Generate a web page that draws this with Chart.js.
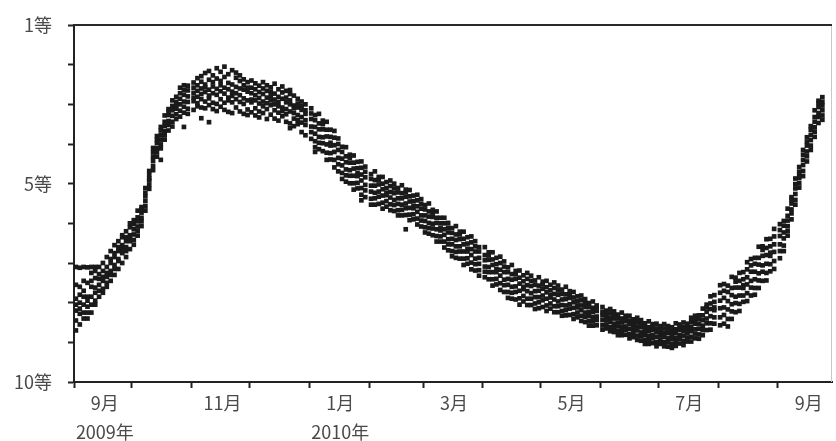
<!DOCTYPE html>
<html>
<head>
<meta charset="utf-8">
<script src="https://cdn.jsdelivr.net/npm/chart.js@4.4.1/dist/chart.umd.min.js"></script>
<style>
  html, body { margin: 0; padding: 0; background: #fff; }
</style>
</head>
<body>
<canvas id="lightCurve" width="836" height="441"></canvas>
<script>
// Observed magnitudes, one row per date: [day of month, magnitude, magnitude, ...]
const sep2009 = [
  [2, 7.55, 7.9, 8.2, 8.45, 8.7, 8.05, 7.1],
  [4, 8.28, 7.6, 8.0, 8.55, 7.8, 8.15, 7.12],
  [6, 7.7, 8.4, 7.45, 8.05, 8.25, 7.85, 7.1],
  [8, 8.4, 7.85, 8.1, 7.5, 7.95, 8.25, 7.11],
  [10, 7.6, 7.85, 8.25, 7.45, 8.05, 7.25, 7.1],
  [12, 7.75, 7.2, 7.95, 7.62, 7.38, 8.05, 7.1],
  [14, 7.28, 7.7, 7.1, 7.55, 7.85, 7.4],
  [16, 7.45, 7.0, 7.65, 7.35, 7.2, 7.75],
  [18, 6.85, 7.35, 7.6, 7.1, 7.25, 7.5],
  [20, 7.2, 6.7, 7.45, 7.0, 6.9, 7.3],
  [22, 6.55, 7.05, 7.3, 6.85, 7.15, 6.75],
  [24, 6.9, 6.45, 7.15, 6.7, 6.95, 6.6],
  [26, 6.35, 6.75, 6.55, 7.0, 6.65, 6.3],
  [28, 6.6, 6.2, 6.85, 6.45, 6.35, 6.7],
  [30, 6.1, 6.45, 6.3, 6.65, 6.0, 6.4]
];
const oct2009 = [
  [2, 5.92, 6.15, 6.28, 6.42, 6.54, 6.02],
  [4, 5.68, 5.85, 5.95, 6.08, 6.19, 6.31],
  [6, 5.59, 5.73, 5.86, 5.95, 6.07, 5.65],
  [8, 5.23, 5.32, 5.44, 5.57, 5.68, 5.11],
  [10, 4.68, 4.87, 5.03, 5.13, 4.78, 4.92],
  [12, 4.21, 4.32, 4.42, 4.55, 4.66, 4.1],
  [14, 3.8, 3.98, 4.11, 4.21, 4.32, 3.89],
  [16, 3.57, 3.78, 3.89, 4.01, 4.11, 3.66, 4.4],
  [18, 3.28, 3.44, 3.54, 3.67, 3.78, 3.89],
  [20, 3.12, 3.27, 3.42, 3.52, 3.66, 3.18],
  [22, 3.04, 3.15, 3.29, 3.44, 3.56, 2.9],
  [24, 2.81, 3.05, 3.25, 3.37, 2.94, 3.11],
  [26, 2.72, 2.86, 3.0, 3.16, 3.31, 2.58],
  [28, 2.52, 2.76, 2.93, 3.06, 3.21, 2.64, 3.57],
  [30, 2.53, 2.8, 2.94, 3.11, 3.24, 2.65]
];
const nov2009 = [
  [2, 2.45, 2.92, 2.71, 3.14, 2.58, 2.83],
  [4, 2.66, 2.34, 3.05, 2.81, 2.52, 2.97],
  [6, 2.29, 2.74, 2.6, 3.08, 2.43, 2.87, 3.35],
  [8, 2.93, 2.5, 2.21, 2.69, 3.1, 2.57],
  [10, 2.38, 2.78, 2.63, 3.02, 2.16, 2.85, 3.45],
  [12, 2.72, 2.27, 2.96, 2.55, 3.12, 2.44],
  [14, 2.09, 2.61, 2.76, 2.35, 2.99, 3.17],
  [16, 2.52, 2.18, 2.87, 3.06, 2.67, 2.41],
  [18, 2.31, 2.73, 2.96, 2.05, 3.14, 2.58],
  [20, 2.83, 2.46, 2.62, 3.19, 2.24, 2.9],
  [22, 2.14, 2.68, 2.95, 2.5, 2.79, 3.22],
  [24, 2.56, 3.08, 2.33, 2.87, 2.72, 2.2],
  [26, 2.94, 2.41, 2.77, 3.18, 2.6, 2.27],
  [28, 2.37, 2.85, 2.63, 3.24, 2.99, 2.52],
  [30, 2.68, 3.13, 2.44, 2.9, 2.58, 3.27]
];
const dec2009 = [
  [2, 2.4, 2.95, 2.72, 3.2, 2.58, 2.88],
  [4, 2.62, 3.1, 2.47, 2.9, 3.28, 2.77],
  [6, 2.53, 2.98, 3.18, 2.69, 2.84, 3.33],
  [8, 2.74, 2.44, 3.05, 2.93, 3.22, 2.6],
  [10, 2.66, 3.12, 2.83, 3.37, 2.52, 2.97],
  [12, 3.02, 2.57, 2.79, 3.26, 2.9, 2.68],
  [14, 2.48, 2.88, 3.15, 2.73, 3.36, 3.0],
  [16, 2.81, 3.21, 2.62, 3.05, 2.94, 3.41],
  [18, 2.7, 3.08, 2.86, 3.3, 2.55, 3.17],
  [20, 3.12, 2.66, 2.95, 3.44, 2.83, 3.25],
  [22, 2.74, 3.18, 3.0, 2.9, 3.48, 2.64, 3.6],
  [24, 3.03, 3.36, 2.78, 3.22, 3.1, 3.55],
  [26, 2.86, 3.27, 3.08, 3.5, 2.98, 3.4],
  [28, 3.14, 2.93, 3.46, 3.32, 3.7, 3.05],
  [30, 3.0, 3.52, 3.24, 3.78, 3.4, 3.15]
];
const jan2010 = [
  [2, 3.1, 3.37, 3.56, 3.7, 3.87, 3.23],
  [4, 3.27, 3.57, 3.74, 3.93, 4.08, 3.4, 4.2],
  [6, 3.24, 3.48, 3.63, 3.82, 3.97, 4.13],
  [8, 3.41, 3.63, 3.83, 3.98, 4.18, 3.5],
  [10, 3.64, 3.81, 4.01, 4.22, 4.4, 3.44],
  [12, 3.64, 3.97, 4.23, 4.39, 3.82, 4.04],
  [14, 3.84, 4.03, 4.2, 4.4, 4.59, 3.67],
  [16, 3.86, 4.15, 4.35, 4.51, 4.69, 4.0],
  [18, 4.07, 4.37, 4.54, 4.73, 4.88, 4.2],
  [20, 4.08, 4.31, 4.46, 4.64, 4.79, 4.95],
  [22, 4.27, 4.47, 4.66, 4.8, 4.99, 4.35],
  [24, 4.47, 4.62, 4.8, 4.99, 5.15, 4.29],
  [26, 4.45, 4.74, 4.98, 5.12, 4.61, 4.81],
  [28, 4.6, 4.77, 4.92, 5.11, 5.28, 4.44, 5.42],
  [30, 4.57, 4.84, 5.03, 5.17, 5.34, 4.7]
];
const feb2010 = [
  [2, 4.76, 5.05, 5.2, 5.38, 5.53, 4.88],
  [4, 4.69, 4.91, 5.05, 5.23, 5.37, 5.53],
  [6, 4.83, 5.02, 5.2, 5.33, 5.51, 4.9],
  [8, 5.0, 5.14, 5.3, 5.48, 5.63, 4.83],
  [10, 4.96, 5.23, 5.44, 5.58, 5.11, 5.29],
  [12, 5.06, 5.21, 5.35, 5.52, 5.67, 4.92],
  [14, 5.0, 5.24, 5.41, 5.54, 5.69, 5.12],
  [16, 5.11, 5.37, 5.51, 5.67, 5.8, 5.22],
  [18, 5.04, 5.24, 5.37, 5.53, 5.66, 5.8],
  [20, 5.15, 5.33, 5.5, 5.62, 5.79, 5.22, 6.15],
  [22, 5.32, 5.45, 5.61, 5.78, 5.92, 5.16],
  [24, 5.3, 5.56, 5.77, 5.9, 5.44, 5.62],
  [26, 5.42, 5.57, 5.71, 5.88, 6.03, 5.28],
  [28, 5.39, 5.63, 5.8, 5.93, 6.08, 5.51]
];
const mar2010 = [
  [2, 5.54, 5.8, 5.94, 6.1, 6.23, 5.65],
  [4, 5.5, 5.7, 5.83, 5.99, 6.12, 6.26],
  [6, 5.66, 5.84, 6.01, 6.13, 6.3, 5.73],
  [8, 5.86, 5.99, 6.15, 6.32, 6.46, 5.7],
  [10, 5.86, 6.12, 6.33, 6.46, 6.0, 6.18],
  [12, 6.0, 6.15, 6.29, 6.46, 6.61, 5.86],
  [14, 5.99, 6.23, 6.4, 6.53, 6.68, 6.11],
  [16, 6.12, 6.39, 6.53, 6.7, 6.83, 6.24],
  [18, 6.07, 6.28, 6.42, 6.58, 6.72, 6.87],
  [20, 6.21, 6.4, 6.58, 6.71, 6.89, 6.28],
  [22, 6.39, 6.53, 6.71, 6.89, 7.05, 6.21],
  [24, 6.35, 6.64, 6.88, 7.02, 6.51, 6.71],
  [26, 6.48, 6.65, 6.8, 6.99, 7.16, 6.33],
  [28, 6.45, 6.71, 6.89, 7.03, 7.19, 6.58],
  [30, 6.6, 6.87, 7.02, 7.18, 7.32, 6.71]
];
const apr2010 = [
  [2, 6.6, 6.8, 6.93, 7.09, 7.22, 7.36],
  [4, 6.73, 6.92, 7.1, 7.23, 7.41, 6.81],
  [6, 6.91, 7.05, 7.23, 7.41, 7.57, 6.73],
  [8, 6.87, 7.16, 7.4, 7.54, 7.03, 7.23],
  [10, 7.0, 7.17, 7.32, 7.51, 7.68, 6.84],
  [12, 6.96, 7.23, 7.42, 7.56, 7.73, 7.09],
  [14, 7.11, 7.4, 7.55, 7.73, 7.88, 7.23],
  [16, 7.05, 7.28, 7.42, 7.6, 7.75, 7.9],
  [18, 7.2, 7.4, 7.59, 7.73, 7.92, 7.28],
  [20, 7.37, 7.52, 7.7, 7.89, 8.05, 7.19],
  [22, 7.31, 7.6, 7.83, 7.97, 7.46, 7.66],
  [24, 7.4, 7.56, 7.71, 7.9, 8.06, 7.25],
  [26, 7.32, 7.58, 7.76, 7.9, 8.06, 7.45],
  [28, 7.44, 7.71, 7.86, 8.02, 8.16, 7.55],
  [30, 7.36, 7.57, 7.7, 7.86, 7.99, 8.14]
];
const may2010 = [
  [2, 7.47, 7.65, 7.82, 7.94, 8.11, 7.54],
  [4, 7.61, 7.74, 7.9, 8.07, 8.21, 7.45],
  [6, 7.55, 7.81, 8.02, 8.15, 7.69, 7.87],
  [8, 7.63, 7.78, 7.92, 8.09, 8.24, 7.49],
  [10, 7.57, 7.8, 7.97, 8.09, 8.24, 7.69],
  [12, 7.67, 7.92, 8.06, 8.21, 8.33, 7.78],
  [14, 7.6, 7.79, 7.91, 8.07, 8.19, 8.32],
  [16, 7.71, 7.88, 8.04, 8.15, 8.31, 7.78],
  [18, 7.87, 7.99, 8.13, 8.29, 8.41, 7.73],
  [20, 7.84, 8.07, 8.25, 8.37, 7.96, 8.12],
  [22, 7.94, 8.07, 8.19, 8.33, 8.46, 7.82],
  [24, 7.91, 8.11, 8.25, 8.36, 8.49, 8.01],
  [26, 8.01, 8.23, 8.34, 8.47, 8.58, 8.1],
  [28, 7.97, 8.13, 8.23, 8.36, 8.47, 8.58],
  [30, 8.07, 8.21, 8.35, 8.44, 8.57, 8.13]
];
const jun2010 = [
  [2, 8.23, 8.32, 8.44, 8.57, 8.68, 8.11],
  [4, 8.2, 8.39, 8.55, 8.65, 8.3, 8.44],
  [6, 8.27, 8.38, 8.48, 8.61, 8.72, 8.16],
  [8, 8.22, 8.4, 8.53, 8.63, 8.74, 8.31],
  [10, 8.3, 8.5, 8.6, 8.72, 8.82, 8.39],
  [12, 8.25, 8.4, 8.5, 8.62, 8.72, 8.82],
  [14, 8.33, 8.47, 8.6, 8.69, 8.81, 8.39],
  [16, 8.45, 8.54, 8.66, 8.79, 8.9, 8.33],
  [18, 8.42, 8.61, 8.77, 8.87, 8.52, 8.66],
  [20, 8.49, 8.6, 8.7, 8.83, 8.94, 8.38],
  [22, 8.44, 8.62, 8.75, 8.85, 8.96, 8.53],
  [24, 8.52, 8.72, 8.82, 8.94, 9.04, 8.61],
  [26, 8.47, 8.62, 8.72, 8.84, 8.94, 9.04],
  [28, 8.54, 8.68, 8.81, 8.9, 9.02, 8.6],
  [30, 8.65, 8.74, 8.86, 8.99, 9.1, 8.53]
];
const jul2010 = [
  [2, 8.59, 8.78, 8.94, 9.04, 8.69, 8.83],
  [4, 8.65, 8.76, 8.86, 8.99, 9.1, 8.54],
  [6, 8.59, 8.77, 8.9, 9.0, 9.11, 8.68],
  [8, 8.62, 8.82, 8.92, 9.04, 9.14, 8.71],
  [10, 8.52, 8.67, 8.77, 8.89, 8.99, 9.09],
  [12, 8.55, 8.69, 8.82, 8.91, 9.03, 8.61],
  [14, 8.62, 8.71, 8.83, 8.96, 9.07, 8.5],
  [16, 8.53, 8.72, 8.88, 8.98, 8.63, 8.77],
  [18, 8.49, 8.61, 8.72, 8.86, 8.98, 8.38],
  [20, 8.33, 8.53, 8.67, 8.78, 8.9, 8.43],
  [22, 8.32, 8.54, 8.66, 8.8, 8.91, 8.42],
  [24, 8.15, 8.32, 8.44, 8.58, 8.69, 8.82],
  [26, 8.05, 8.23, 8.4, 8.52, 8.69, 8.12],
  [28, 8.02, 8.16, 8.34, 8.52, 8.68, 7.84],
  [30, 7.81, 8.12, 8.37, 8.53, 7.98, 8.19]
];
const aug2010 = [
  [2, 7.75, 7.95, 8.14, 8.37, 8.57, 7.56],
  [4, 7.53, 7.88, 8.12, 8.31, 8.53, 7.7],
  [6, 7.57, 7.96, 8.17, 8.41, 8.6, 7.73],
  [8, 7.35, 7.63, 7.81, 8.04, 8.22, 8.41],
  [10, 7.37, 7.62, 7.85, 8.01, 8.24, 7.47],
  [12, 7.45, 7.62, 7.82, 8.03, 8.21, 7.25],
  [14, 7.23, 7.56, 7.82, 7.98, 7.41, 7.63],
  [16, 7.16, 7.36, 7.54, 7.76, 7.96, 6.98],
  [18, 6.9, 7.22, 7.45, 7.62, 7.82, 7.06],
  [20, 6.87, 7.22, 7.41, 7.63, 7.8, 7.02],
  [22, 6.59, 6.87, 7.04, 7.26, 7.44, 7.63],
  [24, 6.58, 6.82, 7.06, 7.22, 7.45, 6.67],
  [26, 6.62, 6.8, 7.02, 7.25, 7.44, 6.4],
  [28, 6.39, 6.74, 7.03, 7.21, 6.58, 6.82],
  [30, 6.33, 6.53, 6.72, 6.95, 7.15, 6.14]
];
const sep2010 = [
  [2, 6.02, 6.32, 6.53, 6.7, 6.88, 6.17],
  [4, 5.94, 6.23, 6.38, 6.56, 6.7, 6.06],
  [6, 5.63, 5.81, 5.93, 6.07, 6.19, 6.31],
  [8, 5.34, 5.5, 5.65, 5.75, 5.9, 5.4],
  [10, 5.01, 5.12, 5.26, 5.41, 5.53, 4.87],
  [12, 4.58, 4.81, 4.99, 5.1, 4.7, 4.86],
  [14, 4.27, 4.4, 4.53, 4.68, 4.81, 4.15],
  [16, 3.83, 4.04, 4.19, 4.31, 4.44, 3.94],
  [18, 3.55, 3.77, 3.9, 4.04, 4.15, 3.64],
  [20, 3.15, 3.32, 3.44, 3.58, 3.69, 3.82],
  [22, 2.91, 3.07, 3.22, 3.32, 3.47, 2.97],
  [24, 2.94, 3.03, 3.15, 3.28, 3.39, 2.82]
];

const observedMonths = [
  [2009, 9, sep2009], [2009, 10, oct2009], [2009, 11, nov2009], [2009, 12, dec2009],
  [2010, 1, jan2010], [2010, 2, feb2010], [2010, 3, mar2010], [2010, 4, apr2010],
  [2010, 5, may2010], [2010, 6, jun2010], [2010, 7, jul2010], [2010, 8, aug2010],
  [2010, 9, sep2010]
];

// axis: months with tick marks, labelled months, magnitude labels
const tickMonths = [
  [2009, 9], [2009, 10], [2009, 11], [2009, 12], [2010, 1], [2010, 2], [2010, 3],
  [2010, 4], [2010, 5], [2010, 6], [2010, 7], [2010, 8], [2010, 9]
];
const labelMonths = [
  [2009, 9, ['9月', '2009年']],
  [2009, 11, ['11月']],
  [2010, 1, ['1月', '2010年']],
  [2010, 3, ['3月']],
  [2010, 5, ['5月']],
  [2010, 7, ['7月']],
  [2010, 9, ['9月']]
];
const magLabels = { 1: '1等', 5: '5等', 10: '10等' };
const axisEnd = [2010, 9, 29];

const DAY = 86400000;
const origin = Date.UTC(2009, 8, 1);
function dayIndex(y, m, d) {
  return (Date.UTC(y, m - 1, d) - origin) / DAY;
}

const points = [];
observedMonths.forEach(([y, m, rows]) => {
  rows.forEach(row => {
    const x = dayIndex(y, m, row[0]);
    row.slice(1).forEach(mag => points.push({ x: x, y: mag }));
  });
});

const tickDays = tickMonths.map(([y, m]) => dayIndex(y, m, 1));
const labelAt = {};
labelMonths.forEach(([y, m, text]) => { labelAt[dayIndex(y, m, 17)] = text; });

const fontFamily = '"Noto Sans CJK JP", sans-serif';

const frame = {
  id: 'frame',
  afterDraw(chart) {
    const { ctx, chartArea: a } = chart;
    ctx.save();
    ctx.strokeStyle = '#c8c8c8';
    ctx.lineWidth = 1;
    ctx.beginPath();
    ctx.moveTo(a.right - 0.5, a.top);
    ctx.lineTo(a.right - 0.5, a.bottom);
    ctx.stroke();
    ctx.strokeStyle = '#2a2a2a';
    ctx.lineWidth = 2;
    ctx.beginPath();
    ctx.moveTo(a.left, a.top);
    ctx.lineTo(a.right, a.top);
    ctx.stroke();
    ctx.restore();
  }
};

new Chart(document.getElementById('lightCurve'), {
  type: 'scatter',
  data: {
    datasets: [{
      data: points,
      pointStyle: 'rect',
      pointRadius: 3.3,
      pointBorderWidth: 0,
      backgroundColor: '#1a1a1a'
    }]
  },
  options: {
    responsive: false,
    animation: false,
    layout: { padding: { top: 25, right: 1, left: 0, bottom: 0 } },
    plugins: { legend: { display: false }, tooltip: { enabled: false } },
    scales: {
      x: {
        type: 'linear',
        min: 0,
        max: dayIndex(...axisEnd),
        afterFit: s => { s.height = 59; s.paddingLeft = 0; s.paddingRight = 0; },
        afterBuildTicks: s => {
          const vals = tickDays.concat(Object.keys(labelAt).map(Number));
          s.ticks = vals.sort((a, b) => a - b).map(v => ({ value: v }));
        },
        border: { display: true, color: '#222', width: 2 },
        grid: {
          drawOnChartArea: false,
          tickLength: 6,
          tickWidth: 2,
          tickColor: ctx => (ctx.tick && tickDays.includes(ctx.tick.value)) ? '#222' : 'rgba(0,0,0,0)'
        },
        ticks: {
          autoSkip: false,
          maxRotation: 0,
          padding: 1,
          color: '#4a4a4a',
          font: { family: fontFamily, size: 18, lineHeight: 1.6 },
          callback: v => labelAt[v] || ''
        }
      },
      y: {
        min: 1,
        max: 10,
        reverse: true,
        afterFit: s => { s.width = 74; s.paddingTop = 0; s.paddingBottom = 0; },
        border: { display: true, color: '#222', width: 2 },
        grid: { drawOnChartArea: false, tickLength: 6, tickWidth: 2, tickColor: '#222' },
        ticks: {
          stepSize: 1,
          padding: 16,
          color: '#4a4a4a',
          font: { family: fontFamily, size: 18, lineHeight: 1.2 },
          callback: v => magLabels[v] || ''
        }
      }
    }
  },
  plugins: [frame]
});
</script>
</body>
</html>
